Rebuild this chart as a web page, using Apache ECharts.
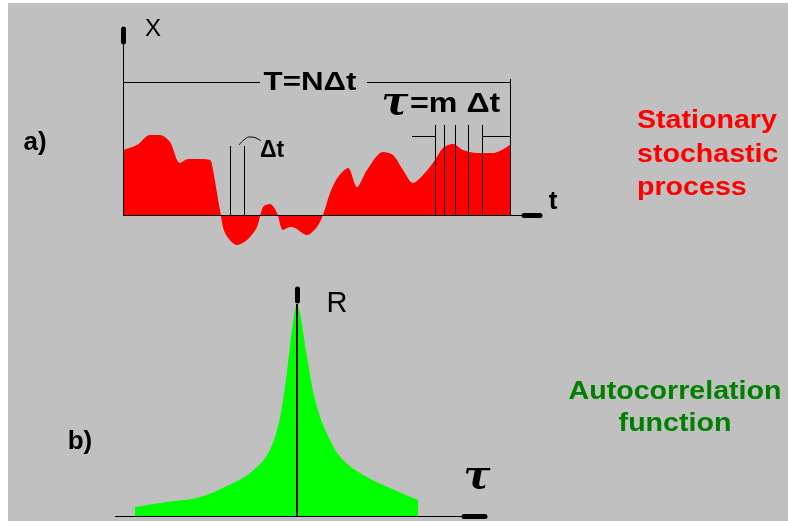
<!DOCTYPE html>
<html>
<head>
<meta charset="utf-8">
<script src="https://cdn.jsdelivr.net/npm/echarts@6/dist/echarts.min.js"></script>
<style>
  html, body { margin: 0; padding: 0; background: #fff; }
  #main { width: 788px; height: 521px; }
</style>
</head>
<body>
<div id="main"></div>
<script>
// a) sampled process: time and value
var procT = [0, 14, 27, 37, 47, 57, 65, 77, 87, 90, 97, 102, 114, 124, 134, 140, 147, 154, 160, 167, 172, 184, 194, 200, 207, 215, 225, 234, 244, 260, 270, 280, 290, 300, 312, 320, 330, 340, 354, 370, 387];
var procX = [65, 70, 80, 80, 73, 52, 56, 56, 55, 45, 5, -18, -30, -25, -12, 8, 11, 2, -15, -12, -13, -20, -12, 0, 22, 38, 47, 28, 45, 63, 60, 45, 32, 40, 55, 67, 71, 65, 62, 62, 70];

// b) autocorrelation: lag and value
var lagTau = [-162, -130, -97, -64, -47, -30, -20, -14, -9, -4, 0, 3, 10, 20, 33, 46, 70, 93, 121];
var corrR = [9, 14, 19, 33, 43, 61, 86, 116, 153, 193, 211, 203, 159, 109, 76, 56, 39, 28, 16];

// markers on the time axis (sample positions)
var deltaMarks = [107, 121];
var lagMarks = [312, 321, 332, 345, 359];
var totalT = 387;

var FONT = "'Liberation Sans', Arial, sans-serif";
var TAUFONT = "'DejaVu Serif', serif";

var myChart = echarts.init(document.getElementById('main'));

function seg(a, b) {
  return [{ coord: a }, { coord: b }];
}

// thin annotation lines of the upper plot
var thinTop = [
  seg([0, 0], [0, 172]),
  seg([0, 0], [400, 0]),
  seg([0, 133], [137, 133]),
  seg([244, 133], [totalT, 133]),
  seg([totalT, 136], [totalT, 0]),
  seg([289, 79], [lagMarks[0], 79]),
  seg([lagMarks[lagMarks.length - 1], 79], [totalT, 79])
];
lagMarks.forEach(function (t) {
  thinTop.push(seg([t, 90], [t, 0]));
});
deltaMarks.forEach(function (t) {
  thinTop.push(seg([t, 69], [t, 0]));
});

var lineCommon = {
  symbol: ['none', 'none'],
  silent: true,
  animation: false,
  label: { show: false },
  emphasis: { disabled: true }
};

myChart.setOption({
  backgroundColor: '#c0c0c0',
  animation: false,
  grid: [
    { left: 123, top: 28, width: 420, height: 227 },
    { left: 115, top: 287, width: 375, height: 229 }
  ],
  xAxis: [
    { type: 'value', gridIndex: 0, min: 0, max: 420, show: false },
    { type: 'value', gridIndex: 1, min: -182, max: 193, show: false }
  ],
  yAxis: [
    { type: 'value', gridIndex: 0, min: -40, max: 187, show: false },
    { type: 'value', gridIndex: 1, min: 0, max: 229, show: false }
  ],
  series: [
    {
      name: 'process',
      type: 'line',
      xAxisIndex: 0,
      yAxisIndex: 0,
      data: procT.map(function (t, i) { return [t, procX[i]]; }),
      smooth: 0.3,
      showSymbol: false,
      lineStyle: { width: 0 },
      itemStyle: { color: '#ff0000' },
      areaStyle: { color: '#ff0000', opacity: 1 },
      z: 1
    },
    {
      name: 'autocorr',
      type: 'line',
      xAxisIndex: 1,
      yAxisIndex: 1,
      data: lagTau.map(function (t, i) { return [t, corrR[i]]; }),
      smooth: 0.4,
      showSymbol: false,
      lineStyle: { width: 0 },
      itemStyle: { color: '#00ff00' },
      areaStyle: { color: '#00ff00', opacity: 1 },
      z: 1
    },
    {
      // small arc over the delta t marks
      type: 'line',
      xAxisIndex: 0,
      yAxisIndex: 0,
      data: [[116, 70], [122, 76], [127, 78], [133, 77], [138, 74]],
      smooth: true,
      showSymbol: false,
      lineStyle: { color: '#000', width: 1 },
      silent: true,
      z: 3
    },
    {
      type: 'line',
      xAxisIndex: 0,
      yAxisIndex: 0,
      data: [],
      z: 3,
      markLine: Object.assign({}, lineCommon, {
        lineStyle: { color: '#000', type: 'solid', width: 1 },
        data: thinTop
      })
    },
    {
      type: 'line',
      xAxisIndex: 0,
      yAxisIndex: 0,
      data: [],
      z: 3,
      markLine: Object.assign({}, lineCommon, {
        lineStyle: { color: '#000', type: 'solid', width: 5, cap: 'round' },
        data: [seg([0, 173], [0, 186]), seg([401, 0], [417, 0])]
      })
    },
    {
      type: 'line',
      xAxisIndex: 1,
      yAxisIndex: 1,
      data: [],
      z: 3,
      markLine: Object.assign({}, lineCommon, {
        lineStyle: { color: '#000', type: 'solid', width: 1 },
        data: [seg([-182, 0], [165, 0])]
      })
    },
    {
      type: 'line',
      xAxisIndex: 1,
      yAxisIndex: 1,
      data: [],
      z: 3,
      markLine: Object.assign({}, lineCommon, {
        lineStyle: { color: '#000', type: 'solid', width: 2 },
        data: [seg([0, 0], [0, 212])]
      })
    },
    {
      type: 'line',
      xAxisIndex: 1,
      yAxisIndex: 1,
      data: [],
      z: 3,
      markLine: Object.assign({}, lineCommon, {
        lineStyle: { color: '#000', type: 'solid', width: 5, cap: 'round' },
        data: [seg([0, 215], [0, 227]), seg([167, 0], [188, 0])]
      })
    }
  ],
  graphic: [
    // white frame strips
    { type: 'rect', left: 0, top: 0, shape: { width: 8, height: 521 }, style: { fill: '#fff' }, silent: true },
    { type: 'rect', left: 0, top: 0, shape: { width: 788, height: 3 }, style: { fill: '#fff' }, silent: true },
    { type: 'text', x: 35, y: 143, style: { text: 'a)', font: 'bold 26px ' + FONT, fill: '#000', textAlign: 'center', textVerticalAlign: 'middle' } },
    { type: 'text', x: 80, y: 442, style: { text: 'b)', font: 'bold 26px ' + FONT, fill: '#000', textAlign: 'center', textVerticalAlign: 'middle' } },
    { type: 'text', x: 153, y: 29, style: { text: 'X', font: '24px ' + FONT, fill: '#000', textAlign: 'center', textVerticalAlign: 'middle' } },
    { type: 'text', x: 553, y: 202, style: { text: 't', font: 'bold 26px ' + FONT, fill: '#000', textAlign: 'center', textVerticalAlign: 'middle' } },
    { type: 'text', x: 310, y: 83, scaleX: 1.25, style: { text: 'T=NΔt', font: 'bold 25px ' + FONT, fill: '#000', textAlign: 'center', textVerticalAlign: 'middle' } },
    { type: 'text', x: 395, y: 104, style: { text: 'τ', font: 'italic bold 40px ' + TAUFONT, fill: '#000', textAlign: 'center', textVerticalAlign: 'middle' } },
    { type: 'text', x: 410, y: 104, scaleX: 1.15, style: { text: '=m Δt', font: 'bold 28px ' + FONT, fill: '#000', textAlign: 'left', textVerticalAlign: 'middle' } },
    { type: 'text', x: 272, y: 151, style: { text: 'Δt', font: 'bold 23px ' + FONT, fill: '#000', textAlign: 'center', textVerticalAlign: 'middle' } },
    { type: 'text', x: 337, y: 304, style: { text: 'R', font: '29px ' + FONT, fill: '#000', textAlign: 'center', textVerticalAlign: 'middle' } },
    { type: 'text', x: 477, y: 478, style: { text: 'τ', font: 'italic bold 40px ' + TAUFONT, fill: '#000', textAlign: 'center', textVerticalAlign: 'middle' } },
    { type: 'text', x: 637, y: 121, scaleX: 1.1, style: { text: 'Stationary', font: 'bold 26px ' + FONT, fill: '#ff0000', textAlign: 'left', textVerticalAlign: 'middle' } },
    { type: 'text', x: 637, y: 155, scaleX: 1.1, style: { text: 'stochastic', font: 'bold 26px ' + FONT, fill: '#ff0000', textAlign: 'left', textVerticalAlign: 'middle' } },
    { type: 'text', x: 637, y: 188, scaleX: 1.1, style: { text: 'process', font: 'bold 26px ' + FONT, fill: '#ff0000', textAlign: 'left', textVerticalAlign: 'middle' } },
    { type: 'text', x: 675, y: 392, scaleX: 1.1, style: { text: 'Autocorrelation', font: 'bold 26px ' + FONT, fill: '#008000', textAlign: 'center', textVerticalAlign: 'middle' } },
    { type: 'text', x: 675, y: 424, scaleX: 1.1, style: { text: 'function', font: 'bold 26px ' + FONT, fill: '#008000', textAlign: 'center', textVerticalAlign: 'middle' } }
  ]
});
</script>
</body>
</html>
